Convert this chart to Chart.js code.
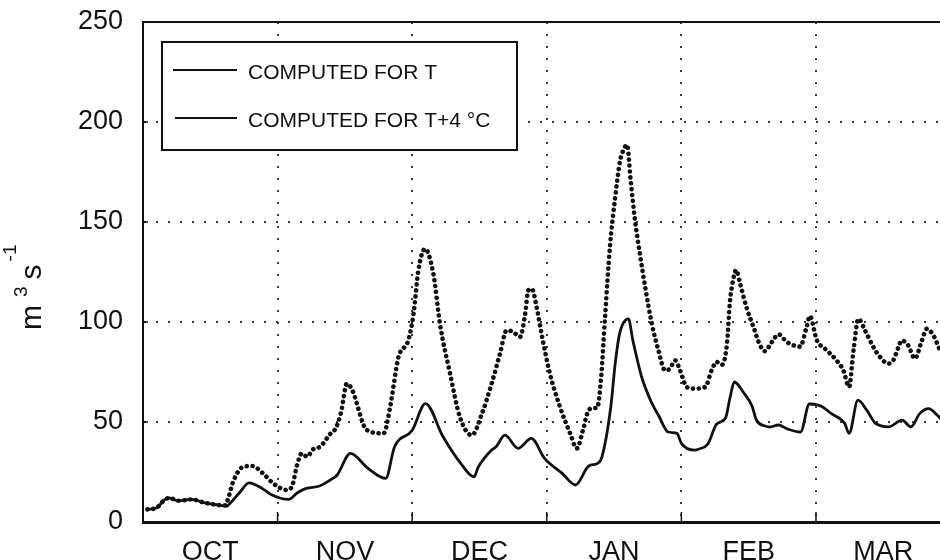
<!DOCTYPE html>
<html>
<head>
<meta charset="utf-8">
<script src="https://cdn.jsdelivr.net/npm/chart.js@4.4.1/dist/chart.umd.min.js"></script>
<style>
html,body{margin:0;padding:0;background:#fff;overflow:hidden}
#wrap{width:940px;height:560px;position:relative}
</style>
</head>
<body>
<div id="wrap"><canvas id="c" width="940" height="560"></canvas></div>
<script>
// ---- data ----
const months = ['OCT', 'NOV', 'DEC', 'JAN', 'FEB', 'MAR'];
const yTicks = [0, 50, 100, 150, 200, 250];
const seriesNames = ['COMPUTED FOR T', 'COMPUTED FOR T+4 °C'];
const yTitle = ['m', '3', 's', '-1'];

// day of season (Oct 1 = 0), discharge m3/s — computed for T
const daysT = [1,3,5,6,8,11,14,17,19,20,22,24,27,29,33,35,37,40,43,44,47,51,55,57,61,64,68,72,75,76,79,80,82,85,88,91,95,98,101,103,104,106,107,108,110,111,113,115,117,119,121,122,125,126,128,130,132,133,134,136,138,139,141,142,144,146,149,151,153,154,156,159,160,162,164,166,169,172,174,176,178,180,181];
const flowT = [6.3,7,11.3,12,10.6,11.3,9.6,8.5,8,10,15,19.6,16.8,13.8,11.3,14.6,16.8,18,21.8,23.5,34.3,26.8,21.8,37.6,45.9,59.2,42.6,29.3,22.6,27.6,36,37.6,43.4,36.8,41.8,31.8,24.3,18.5,28,29.3,32.6,57.5,79.2,94.2,101.6,90.8,72.5,60.9,52.5,45,44.3,39.3,35.9,36.5,39,49,52,62,70,65,58,51,48,47.5,48.5,46.5,45,59,58.4,57.5,54.2,49.3,44.3,60.9,55.9,49.3,47.6,50.9,47.6,54.2,56.7,53.4,51];

// computed for T+4 °C
const daysT4 = [1,3,5,6,8,11,14,17,18.6,19.3,20.4,22.7,24.7,27.2,29.5,32.6,33.8,34.9,36.0,37.2,38.5,40.1,42.4,43.7,44.9,46.2,47.4,50.7,54.5,56.0,57.9,60.1,61.3,62.4,63.9,65.8,67.3,69.6,71.8,74.5,76.8,79.0,80.9,82.4,83.9,85.4,86.6,87.3,88.1,89.2,90.3,92.2,94.5,96.8,98.3,99.7,100.8,102.0,102.9,103.8,104.7,105.8,107.0,108.1,108.8,109.7,110.5,111.5,112.6,113.8,115.3,116.8,118.3,119.4,120.6,121.7,123.2,124.7,127.4,128.9,130.0,131.1,132.3,133.0,133.7,134.4,135.3,136.8,138.3,139.8,140.9,142.5,144.0,145.9,148.9,150.4,151.1,152.7,154.5,156.8,158.7,160.0,161.0,162.1,163.6,165.5,167.0,168.9,170.0,171.2,171.9,173.4,174.9,176.5,177.6,179.1,180.6];
const flowT4 = [6.3,7,11.3,12,10.6,11.3,9.6,8.5,8.3,11.8,20,27.6,28,24.3,19.3,16,18,28.4,34.3,32.6,36.3,37.6,44,47,55,69.2,66,46,44.3,57.5,82.5,90.8,104,125.7,136.6,124,99,74,52.5,43.4,54.2,69.2,84.2,95.8,95,92.5,104,115.8,116.6,107.4,94.2,74.2,57.5,44.3,36.8,46,55,57,57,72,102.4,137.4,162.3,180.6,185.6,188.6,170.7,150.7,134,117.4,99.1,85.8,75.8,76.7,80.8,75.8,67.5,66.7,67.5,76.2,80,78.5,88.5,110,120.8,126,119.2,106.9,97.7,88.5,85.4,90,93.8,90,87.7,97.7,103,90.8,86.7,81.7,75.8,67.5,85.8,101.6,95.8,87.5,82.5,79.2,80.8,87.5,90.8,88.3,81.7,90.8,96.6,93.3,85.8];

// ---- scale settings ----
const MONTH_LEN = 30.5;
const X_MAX = 180.6;
const FONT = 'Liberation Sans, Arial, sans-serif';
const INK = '#111111';
const GRID = '#3a3a3a';

const ptsT = daysT.map((d, i) => ({x: d, y: flowT[i]}));
const ptsT4 = daysT4.map((d, i) => ({x: d, y: flowT4[i]}));

const decor = {
  id: 'decor',
  afterDraw(chart) {
    const {ctx, chartArea: a, scales: {x, y}} = chart;
    ctx.save();
    ctx.strokeStyle = INK;
    ctx.lineCap = 'butt';
    // top frame line
    ctx.lineWidth = 2;
    ctx.beginPath(); ctx.moveTo(a.left - 1, a.top); ctx.lineTo(a.right, a.top); ctx.stroke();
    // small inward tick marks on the time axis
    ctx.lineWidth = 1.5;
    for (let i = 1; i <= months.length; i++) {
      const px = x.getPixelForValue(i * MONTH_LEN);
      if (px > a.right) continue;
      ctx.beginPath(); ctx.moveTo(px, a.bottom); ctx.lineTo(px, a.bottom - 10); ctx.stroke();
    }
    // small inward ticks on the value axis
    yTicks.forEach(v => {
      if (v === yTicks[0] || v === yTicks[yTicks.length - 1]) return;
      const py = y.getPixelForValue(v);
      ctx.beginPath(); ctx.moveTo(a.left, py); ctx.lineTo(a.left + 5, py); ctx.stroke();
    });

    // legend box
    const lx = a.left + 19, ly = a.top + 20, lw = 355, lh = 108;
    ctx.fillStyle = '#fff';
    ctx.fillRect(lx, ly, lw, lh);
    ctx.lineWidth = 2;
    ctx.strokeRect(lx, ly, lw, lh);
    ctx.lineWidth = 2.2;
    ctx.beginPath(); ctx.moveTo(lx + 11, ly + 28); ctx.lineTo(lx + 75, ly + 28); ctx.stroke();
    ctx.lineWidth = 2;
    ctx.beginPath(); ctx.moveTo(lx + 13, ly + 76); ctx.lineTo(lx + 75, ly + 76); ctx.stroke();
    ctx.fillStyle = INK;
    ctx.font = '21px ' + FONT;
    ctx.textBaseline = 'alphabetic';
    ctx.textAlign = 'left';
    ctx.fillText(seriesNames[0], lx + 86, ly + 37);
    ctx.fillText(seriesNames[1], lx + 86, ly + 85);

    // y-axis title m^3 s^-1 (rotated)
    ctx.translate(41, 330);
    ctx.rotate(-Math.PI / 2);
    let u = 0;
    ctx.font = '30px ' + FONT;
    ctx.fillText(yTitle[0], u, 0); u += ctx.measureText(yTitle[0]).width + 8;
    ctx.font = '19px ' + FONT;
    ctx.fillText(yTitle[1], u, -14); u += ctx.measureText(yTitle[1]).width + 7;
    ctx.font = '30px ' + FONT;
    ctx.fillText(yTitle[2], u, 0); u += ctx.measureText(yTitle[2]).width + 3;
    ctx.font = '19px ' + FONT;
    ctx.fillText(yTitle[3], u, -25);
    ctx.restore();
  }
};

new Chart(document.getElementById('c'), {
  type: 'scatter',
  data: {
    datasets: [
      {
        label: seriesNames[0],
        data: ptsT,
        showLine: true,
        borderColor: INK,
        borderWidth: 2.8,
        pointRadius: 0,
        cubicInterpolationMode: 'monotone',
        borderJoinStyle: 'round',
        order: 1
      },
      {
        label: seriesNames[1],
        data: ptsT4,
        showLine: true,
        borderColor: INK,
        borderWidth: 4.6,
        borderDash: [0.1, 5.8],
        borderCapStyle: 'round',
        pointRadius: 0,
        cubicInterpolationMode: 'monotone',
        order: 2
      }
    ]
  },
  options: {
    responsive: false,
    animation: false,
    devicePixelRatio: 1,
    layout: {padding: {top: 22, right: 0, left: 0, bottom: 0}},
    plugins: {legend: {display: false}, tooltip: {enabled: false}},
    scales: {
      x: {
        type: 'linear',
        min: 0,
        max: X_MAX,
        afterFit(s) { s.height = 38; s.paddingLeft = 0; s.paddingRight = 0; },
        afterBuildTicks(s) {
          const t = [];
          months.forEach((m, i) => { t.push({value: i * MONTH_LEN}); t.push({value: (i + 0.5) * MONTH_LEN}); });
          s.ticks = t;
        },
        ticks: {
          autoSkip: false,
          maxRotation: 0,
          padding: 14,
          color: INK,
          font: {family: FONT, size: 27},
          callback: (v, i) => (i % 2 === 1 ? months[(i - 1) / 2] : '')
        },
        grid: {
          drawTicks: false,
          lineWidth: 2,
          color: c => (c.index % 2 === 0 && c.index > 0 ? GRID : 'rgba(0,0,0,0)')
        },
        border: {display: true, color: INK, width: 3, dash: [2, 10]}
      },
      y: {
        min: 0,
        max: 250,
        afterFit(s) { s.width = 143; s.paddingTop = 0; s.paddingBottom = 0; },
        afterBuildTicks(s) { s.ticks = yTicks.map(v => ({value: v})); },
        ticks: {
          padding: 20,
          color: INK,
          font: {family: FONT, size: 27}
        },
        grid: {
          drawTicks: false,
          lineWidth: 2,
          color: c => (c.tick && (c.tick.value === yTicks[0] || c.tick.value === yTicks[yTicks.length - 1]) ? 'rgba(0,0,0,0)' : GRID)
        },
        border: {display: true, color: INK, width: 2, dash: [2, 10]}
      }
    }
  },
  plugins: [decor]
});
</script>
</body>
</html>
